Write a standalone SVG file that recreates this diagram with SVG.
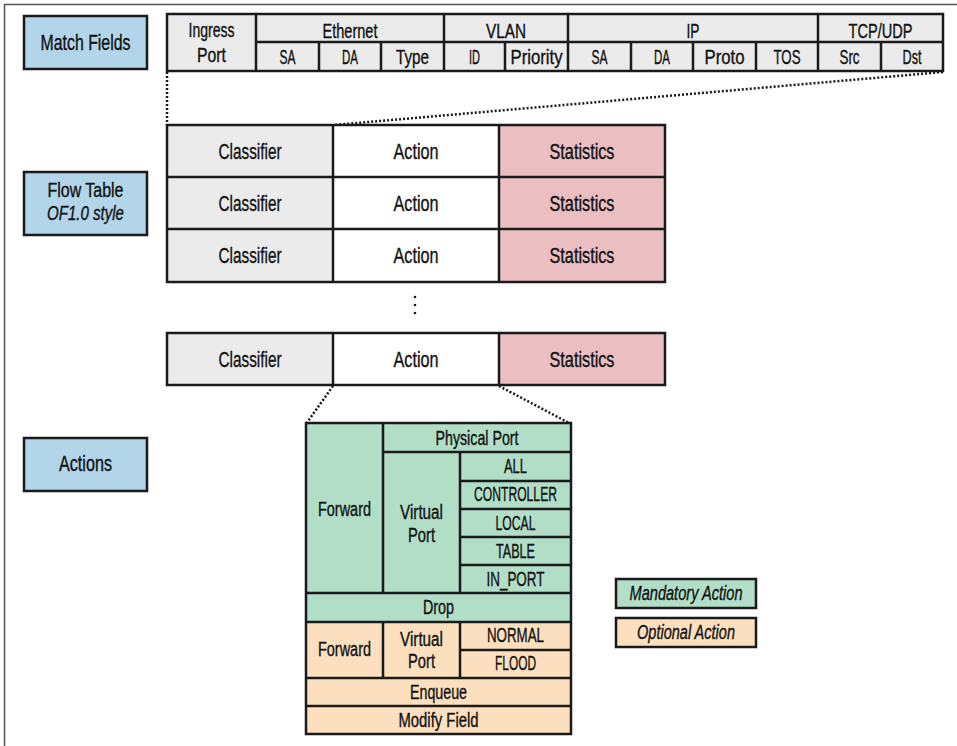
<svg xmlns="http://www.w3.org/2000/svg" width="957" height="746" viewBox="0 0 957 746">
<style>
text{font-family:"Liberation Sans",Arial,sans-serif;fill:#111;stroke:#111;stroke-width:0.35;text-anchor:middle}
.t19{font-size:21.5px}
.t20{font-size:19.5px}
.t18{font-size:20px}
.t17{font-size:19.5px}
.it{font-style:italic}
.box{stroke:#1a1a1a;stroke-width:2.5}
.ln{stroke:#1a1a1a;stroke-width:2.5;fill:none}
.blue{fill:#b2d5ea}
.gray{fill:#ebebeb}
.white{fill:#ffffff}
.pink{fill:#ebbfc2}
.green{fill:#b2dec8}
.orange{fill:#fcdfbf}
.dot{stroke:#1a1a1a;stroke-width:2.5;stroke-dasharray:2 2;fill:none}
</style>
<rect width="957" height="746" fill="#fff"/>
<path d="M4.5 746 V4.5 H957" fill="none" stroke="#555" stroke-width="1.5"/>

<g id="connectors">
<line class="dot" x1="167" y1="72" x2="167" y2="125"/>
<line class="dot" x1="943" y1="72" x2="334" y2="125"/>
<line class="dot" x1="333" y1="386" x2="306" y2="424"/>
<line class="dot" x1="499" y1="386" x2="571" y2="424"/>
<g fill="#1a1a1a"><circle cx="415" cy="297" r="1.3"/><circle cx="415" cy="305" r="1.3"/><circle cx="415" cy="313" r="1.3"/></g>
</g>

<g id="match-fields-label">
<rect class="box blue" x="24" y="16" width="123" height="53"/>
<text class="t19" x="85.5" y="50" textLength="90" lengthAdjust="spacingAndGlyphs">Match Fields</text>
</g>

<g id="match-fields-table">
<rect class="box gray" x="167" y="14" width="776" height="57"/>
<g class="ln">
<path d="M256 42 H943"/>
<path d="M256 14 V71 M444 14 V71 M568 14 V71 M818 14 V71"/>
<path d="M319 42 V71 M381 42 V71 M505 42 V71 M631 42 V71 M693 42 V71 M756 42 V71 M881 42 V71"/>
</g>
<g class="t18">
<text x="211.5" y="37" textLength="46" lengthAdjust="spacingAndGlyphs">Ingress</text>
<text x="211.5" y="61.5" textLength="29" lengthAdjust="spacingAndGlyphs">Port</text>
<text x="350" y="37.5" textLength="55" lengthAdjust="spacingAndGlyphs">Ethernet</text>
<text x="506" y="37.5" textLength="40" lengthAdjust="spacingAndGlyphs">VLAN</text>
<text x="693" y="37.5" textLength="13" lengthAdjust="spacingAndGlyphs">IP</text>
<text x="880.5" y="37.5" textLength="64" lengthAdjust="spacingAndGlyphs">TCP/UDP</text>
<text x="287.5" y="64" textLength="16" lengthAdjust="spacingAndGlyphs">SA</text>
<text x="350" y="64" textLength="16" lengthAdjust="spacingAndGlyphs">DA</text>
<text x="412.5" y="64" textLength="33" lengthAdjust="spacingAndGlyphs">Type</text>
<text x="474.5" y="64" textLength="11" lengthAdjust="spacingAndGlyphs">ID</text>
<text x="536.5" y="64" textLength="52" lengthAdjust="spacingAndGlyphs">Priority</text>
<text x="599.5" y="64" textLength="16" lengthAdjust="spacingAndGlyphs">SA</text>
<text x="662" y="64" textLength="16" lengthAdjust="spacingAndGlyphs">DA</text>
<text x="724.5" y="64" textLength="40" lengthAdjust="spacingAndGlyphs">Proto</text>
<text x="787" y="64" textLength="27" lengthAdjust="spacingAndGlyphs">TOS</text>
<text x="849.5" y="64" textLength="20" lengthAdjust="spacingAndGlyphs">Src</text>
<text x="912" y="64" textLength="19" lengthAdjust="spacingAndGlyphs">Dst</text>
</g>
</g>

<g id="flow-table-label">
<rect class="box blue" x="24" y="172" width="123" height="63"/>
<text class="t20" x="85.5" y="197" textLength="76" lengthAdjust="spacingAndGlyphs">Flow Table</text>
<text class="t20 it" x="85.5" y="220" textLength="77" lengthAdjust="spacingAndGlyphs">OF1.0 style</text>
</g>

<g id="flow-table">
<rect class="gray" x="167" y="125" width="166" height="157"/>
<rect class="white" x="333" y="125" width="166" height="157"/>
<rect class="pink" x="499" y="125" width="166" height="157"/>
<rect class="ln" x="167" y="125" width="498" height="157"/>
<path class="ln" d="M167 177 H665 M167 229 H665 M333 125 V282 M499 125 V282"/>
<g class="t19">
<text x="250" y="159" textLength="63" lengthAdjust="spacingAndGlyphs">Classifier</text>
<text x="416" y="159" textLength="45" lengthAdjust="spacingAndGlyphs">Action</text>
<text x="582" y="159" textLength="65" lengthAdjust="spacingAndGlyphs">Statistics</text>
<text x="250" y="211" textLength="63" lengthAdjust="spacingAndGlyphs">Classifier</text>
<text x="416" y="211" textLength="45" lengthAdjust="spacingAndGlyphs">Action</text>
<text x="582" y="211" textLength="65" lengthAdjust="spacingAndGlyphs">Statistics</text>
<text x="250" y="263" textLength="63" lengthAdjust="spacingAndGlyphs">Classifier</text>
<text x="416" y="263" textLength="45" lengthAdjust="spacingAndGlyphs">Action</text>
<text x="582" y="263" textLength="65" lengthAdjust="spacingAndGlyphs">Statistics</text>
</g>
</g>

<g id="flow-table-last-row">
<rect class="gray" x="167" y="333" width="166" height="52"/>
<rect class="white" x="333" y="333" width="166" height="52"/>
<rect class="pink" x="499" y="333" width="166" height="52"/>
<rect class="ln" x="167" y="333" width="498" height="52"/>
<path class="ln" d="M333 333 V385 M499 333 V385"/>
<g class="t19">
<text x="250" y="367" textLength="63" lengthAdjust="spacingAndGlyphs">Classifier</text>
<text x="416" y="367" textLength="45" lengthAdjust="spacingAndGlyphs">Action</text>
<text x="582" y="367" textLength="65" lengthAdjust="spacingAndGlyphs">Statistics</text>
</g>
</g>

<g id="actions-label">
<rect class="box blue" x="24" y="438" width="123" height="53"/>
<text class="t19" x="85.5" y="471" textLength="53" lengthAdjust="spacingAndGlyphs">Actions</text>
</g>

<g id="actions-table">
<rect class="green" x="306" y="423" width="265" height="199"/>
<rect class="orange" x="306" y="622" width="265" height="112"/>
<rect class="ln" x="306" y="423" width="265" height="311"/>
<path class="ln" d="M383 423 V593 M383 452 H571 M460 452 V593 M460 481 H571 M460 509 H571 M460 537 H571 M460 565 H571 M306 593 H571 M306 622 H571 M383 622 V678 M460 622 V678 M460 650 H571 M306 678 H571 M306 706 H571"/>
<g class="t17">
<text x="477" y="445" textLength="83" lengthAdjust="spacingAndGlyphs">Physical Port</text>
<text x="515.5" y="473" textLength="23" lengthAdjust="spacingAndGlyphs">ALL</text>
<text x="515.5" y="501" textLength="83" lengthAdjust="spacingAndGlyphs">CONTROLLER</text>
<text x="515.5" y="530" textLength="40" lengthAdjust="spacingAndGlyphs">LOCAL</text>
<text x="515.5" y="558" textLength="39" lengthAdjust="spacingAndGlyphs">TABLE</text>
<text x="515.5" y="586" textLength="58" lengthAdjust="spacingAndGlyphs">IN_PORT</text>
<text x="344.5" y="516" textLength="53" lengthAdjust="spacingAndGlyphs">Forward</text>
<text x="421.5" y="519" textLength="43" lengthAdjust="spacingAndGlyphs">Virtual</text>
<text x="421.5" y="542" textLength="27" lengthAdjust="spacingAndGlyphs">Port</text>
<text x="438.5" y="614" textLength="31" lengthAdjust="spacingAndGlyphs">Drop</text>
<text x="344.5" y="656" textLength="53" lengthAdjust="spacingAndGlyphs">Forward</text>
<text x="421.5" y="646" textLength="43" lengthAdjust="spacingAndGlyphs">Virtual</text>
<text x="421.5" y="668" textLength="27" lengthAdjust="spacingAndGlyphs">Port</text>
<text x="515.5" y="642" textLength="57" lengthAdjust="spacingAndGlyphs">NORMAL</text>
<text x="515.5" y="670" textLength="41" lengthAdjust="spacingAndGlyphs">FLOOD</text>
<text x="438.5" y="699" textLength="57" lengthAdjust="spacingAndGlyphs">Enqueue</text>
<text x="438.5" y="727" textLength="80" lengthAdjust="spacingAndGlyphs">Modify Field</text>
</g>
</g>

<g id="legend-mandatory">
<rect class="box green" x="616" y="579" width="140" height="29"/>
<text class="t17 it" x="686" y="600" textLength="113" lengthAdjust="spacingAndGlyphs">Mandatory Action</text>
</g>
<g id="legend-optional">
<rect class="box orange" x="616" y="618" width="140" height="29"/>
<text class="t17 it" x="686" y="639" textLength="98" lengthAdjust="spacingAndGlyphs">Optional Action</text>
</g>
</svg>
